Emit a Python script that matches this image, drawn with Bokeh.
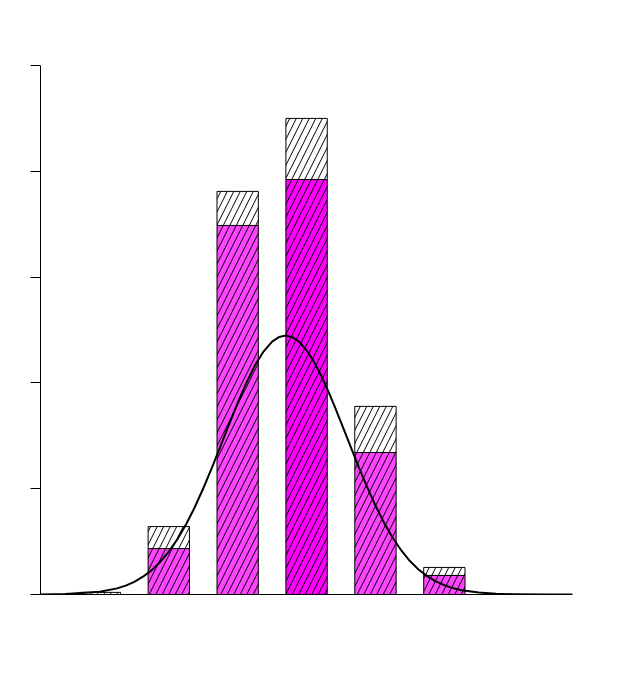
from bokeh.plotting import figure
from bokeh.models import ColumnDataSource, FixedTicker, Range1d
from bokeh.embed import file_html
from bokeh.resources import INLINE

# Data
categories = [0, 1, 2, 3, 4, 5]
lower_values = [0.0, 2.17, 17.44, 19.61, 6.71, 0.90]
total_values = [0.10, 3.21, 19.05, 22.50, 8.89, 1.28]
y_ticks = [0, 5, 10, 15, 20, 25]

curve_x = [-0.86, -0.5, 0.0, 0.25, 0.375, 0.5, 0.625, 0.75, 0.875, 1.0, 1.125,
           1.25, 1.375, 1.5, 1.625, 1.75, 1.875, 2.0, 2.125, 2.25, 2.375,
           2.5, 2.6, 2.7, 2.8, 2.9, 3.0, 3.1, 3.2, 3.3, 3.4, 3.5, 3.625,
           3.75, 3.875, 4.0, 4.125, 4.25, 4.375, 4.5, 4.625, 4.75, 4.875,
           5.0, 5.125, 5.25, 5.5, 5.75, 6.0, 6.5, 6.86]
curve_y = [0.005, 0.02, 0.13, 0.29, 0.42, 0.60, 0.84, 1.14, 1.54, 2.03, 2.61,
           3.31, 4.11, 5.01, 5.98, 7.00, 8.04, 9.05, 9.99, 10.82, 11.48,
           11.95, 12.17, 12.24, 12.15, 11.92, 11.54, 11.04, 10.42, 9.72, 8.95, 8.14, 7.11,
           6.08, 5.11, 4.20, 3.39, 2.68, 2.08, 1.58, 1.18, 0.87, 0.62,
           0.44, 0.30, 0.20, 0.09, 0.035, 0.013, 0.001, 0.0]

lower_colors = ["#ff44ff", "#ff44ff", "#ff44ff", "#ff00ff", "#ff44ff", "#ff44ff"]

p = figure(frame_width=532, frame_height=529, output_backend="svg",
           toolbar_location=None,
           x_range=Range1d(-0.862, 6.86), y_range=Range1d(0, 25),
           min_border_left=40, min_border_top=65, min_border_right=30,
           min_border_bottom=60)
p.outline_line_color = None
p.xgrid.visible = False
p.ygrid.visible = False
p.background_fill_color = "white"
p.border_fill_color = "white"

src = ColumnDataSource(dict(x=categories, low=lower_values, top=total_values,
                            color=lower_colors))

# upper (white) part
p.vbar(x="x", bottom="low", top="top", width=0.6, source=src,
       fill_color="white", line_color="black", line_width=1,
       hatch_pattern="/", hatch_color="black", hatch_scale=13, hatch_weight=1)
# lower (magenta) part
p.vbar(x="x", bottom=0, top="low", width=0.6, source=src,
       fill_color="color", line_color="black", line_width=1,
       hatch_pattern="/", hatch_color="black", hatch_scale=13, hatch_weight=1)

p.line(curve_x, curve_y, line_color="black", line_width=2, line_join="round")

ya = p.yaxis[0]
ya.ticker = FixedTicker(ticks=y_ticks)
ya.major_tick_out = 10
ya.major_tick_in = 0
ya.minor_tick_out = 0
ya.minor_tick_in = 0
ya.major_label_overrides = {t: "" for t in y_ticks}
ya.major_label_text_font_size = "0px"
ya.axis_line_color = "black"
ya.major_tick_line_color = "black"

xa = p.xaxis[0]
xa.ticker = FixedTicker(ticks=[])
xa.major_tick_out = 0
xa.major_tick_in = 0
xa.minor_tick_out = 0
xa.minor_tick_in = 0
xa.major_tick_line_color = None
xa.minor_tick_line_color = None
xa.major_label_text_font_size = "0px"
xa.axis_line_color = "black"

open("out.html", "w").write(file_html(p, INLINE))
